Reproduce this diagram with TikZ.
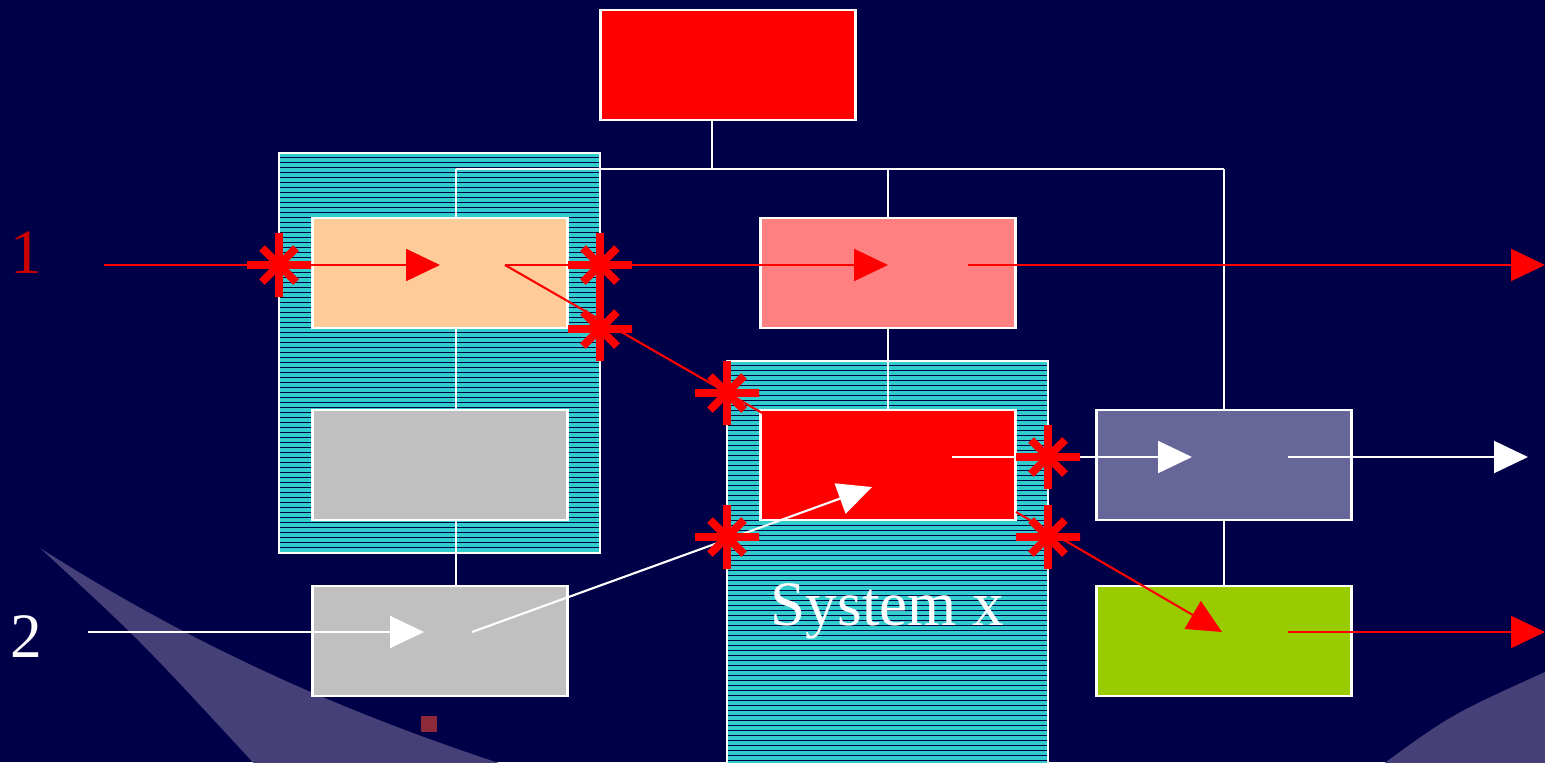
\documentclass[tikz,border=0pt]{standalone}
\usepackage{fontspec}
\setmainfont{Liberation Serif}
\usetikzlibrary{arrows.meta}

\definecolor{navy}{RGB}{0,0,72}
\definecolor{swoosh}{RGB}{70,64,120}
\definecolor{hatchcyan}{RGB}{51,204,204}
\definecolor{peach}{RGB}{255,204,153}
\definecolor{lightgray}{RGB}{192,192,192}
\definecolor{salmon}{RGB}{255,128,128}
\definecolor{slate}{RGB}{102,102,153}
\definecolor{lime}{RGB}{153,204,0}
\definecolor{darkred}{RGB}{204,0,0}
\definecolor{speck}{RGB}{140,42,58}

\tikzset{
  cutmark/.pic={
    \draw[red, line width=4.5pt] (-32,0) -- (32,0) (0,-32) -- (0,32)
      (-17,-17) -- (17,17) (-17,17) -- (17,-17);
  }
}

\begin{document}
\begin{tikzpicture}[x=0.02cm, y=-0.02cm,
    box/.style={draw=white, line width=1.3pt, minimum width=5.1cm, minimum height=2.2cm, inner sep=0pt},
    hatched/.style={fill=hatchcyan, inner sep=0pt, minimum width=6.42cm},
    hatchline/.style={navy, line width=0.012cm},
    frame/.style={draw=white, line width=1.2pt},
    link/.style={white, line width=1.1pt},
    redflow/.style={red, line width=1.2pt, -{Triangle[length=0.68cm, width=0.64cm]}},
    whiteflow/.style={white, line width=1.2pt, -{Triangle[length=0.68cm, width=0.64cm]}},
    label/.style={font=\fontsize{36}{40}\selectfont, inner sep=0pt, anchor=base}]

    % Background
    \useasboundingbox (0,0) rectangle (1545,762);
    \clip (0,0) rectangle (1545,762);
    \fill[navy] (0,0) rectangle (1545,762);
    \fill[swoosh] (40,548) .. controls (200,650) and (350,715) .. (520,770)
      -- (260,770) .. controls (140,640) .. (40,548) -- cycle;
    \fill[swoosh] (1375,770) .. controls (1450,715) .. (1545,672) -- (1545,770) -- cycle;
    \fill[speck] (421,716) rectangle (437,732);

    % Systems
    \node (sysL) [hatched, minimum height=8cm] at (439.5,353) {};
    \node (sysx) [hatched, minimum height=8.6cm] at (887.5,576) {};
    \foreach \y in {157.5,162.5,...,552} \draw[hatchline] (280,\y) -- (599,\y);
    \foreach \y in {365.5,370.5,...,764} \draw[hatchline] (728,\y) -- (1047,\y);
    \draw[frame] (sysL.north west) rectangle (sysL.south east);
    \draw[frame] (sysx.north west) rectangle (sysx.south east);

    % Tree
    \coordinate (bus) at (712,169);
    \coordinate (busL) at (456,169);
    \coordinate (busR) at (1224,169);
    \node (top) [box, fill=red] at (728,65) {};
    \draw[link] (busL) -- (busR);
    \draw[link] (bus) -- (bus |- top.south);
    \draw[link] (busL) -- (456,585);
    \draw[link] (888,169) -- (888,409);
    \draw[link] (busR) -- (1224,585);

    % Units
    \node (orange) [box, fill=peach] at (440,273) {};
    \node (grayA) [box, fill=lightgray] at (440,465) {};
    \node (grayB) [box, fill=lightgray] at (440,641) {};
    \node (pink) [box, fill=salmon] at (888,273) {};
    \node (core) [box, fill=red] at (888,465) {};
    \node (purple) [box, fill=slate] at (1224,465) {};
    \node (green) [box, fill=lime] at (1224,641) {};

    % Flow 1
    \coordinate (in1) at (104,265);
    \coordinate (orangeIn) at (440,265);
    \coordinate (orangeOut) at (505,265);
    \coordinate (pinkIn) at (888,265);
    \coordinate (pinkOut) at (968,265);
    \coordinate (out1) at (1545,265);
    \coordinate (coreIn) at (790,429);
    \coordinate (coreOut) at (1016,512);
    \coordinate (greenIn) at (1222,632);
    \coordinate (greenOut) at (1288,632);
    \coordinate (out3) at (1545,632);
    \draw[redflow] (in1) -- (orangeIn);
    \draw[redflow] (orangeOut) -- (pinkIn);
    \draw[redflow] (pinkOut) -- (out1);
    \draw[red, line width=1.2pt] (orangeOut) -- (coreIn);
    \draw[redflow] (coreOut) -- (greenIn);
    \draw[redflow] (greenOut) -- (out3);

    % Flow 2
    \coordinate (in2) at (88,632);
    \coordinate (grayIn) at (424,632);
    \coordinate (grayOut) at (472,632);
    \coordinate (coreIn2) at (872,487);
    \coordinate (coreOut2) at (952,457);
    \coordinate (purpleIn) at (1192,457);
    \coordinate (purpleOut) at (1288,457);
    \coordinate (out2) at (1528,457);
    \draw[whiteflow] (in2) -- (grayIn);
    \draw[whiteflow] (grayOut) -- (coreIn2);
    \draw[whiteflow] (coreOut2) -- (purpleIn);
    \draw[whiteflow] (purpleOut) -- (out2);

    % Cuts
    \pic at (279,265) {cutmark};
    \pic at (600,265) {cutmark};
    \pic at (600,329) {cutmark};
    \pic at (727,393) {cutmark};
    \pic at (727,537) {cutmark};
    \pic at (1048,457) {cutmark};
    \pic at (1048,537) {cutmark};

    % Labels
    \node (one) [label, darkred] at (26,273) {1};
    \node (two) [label, white] at (26,657) {2};
    \node (sysxname) [label, white] at (887.5,625) {System x};
\end{tikzpicture}
\end{document}
